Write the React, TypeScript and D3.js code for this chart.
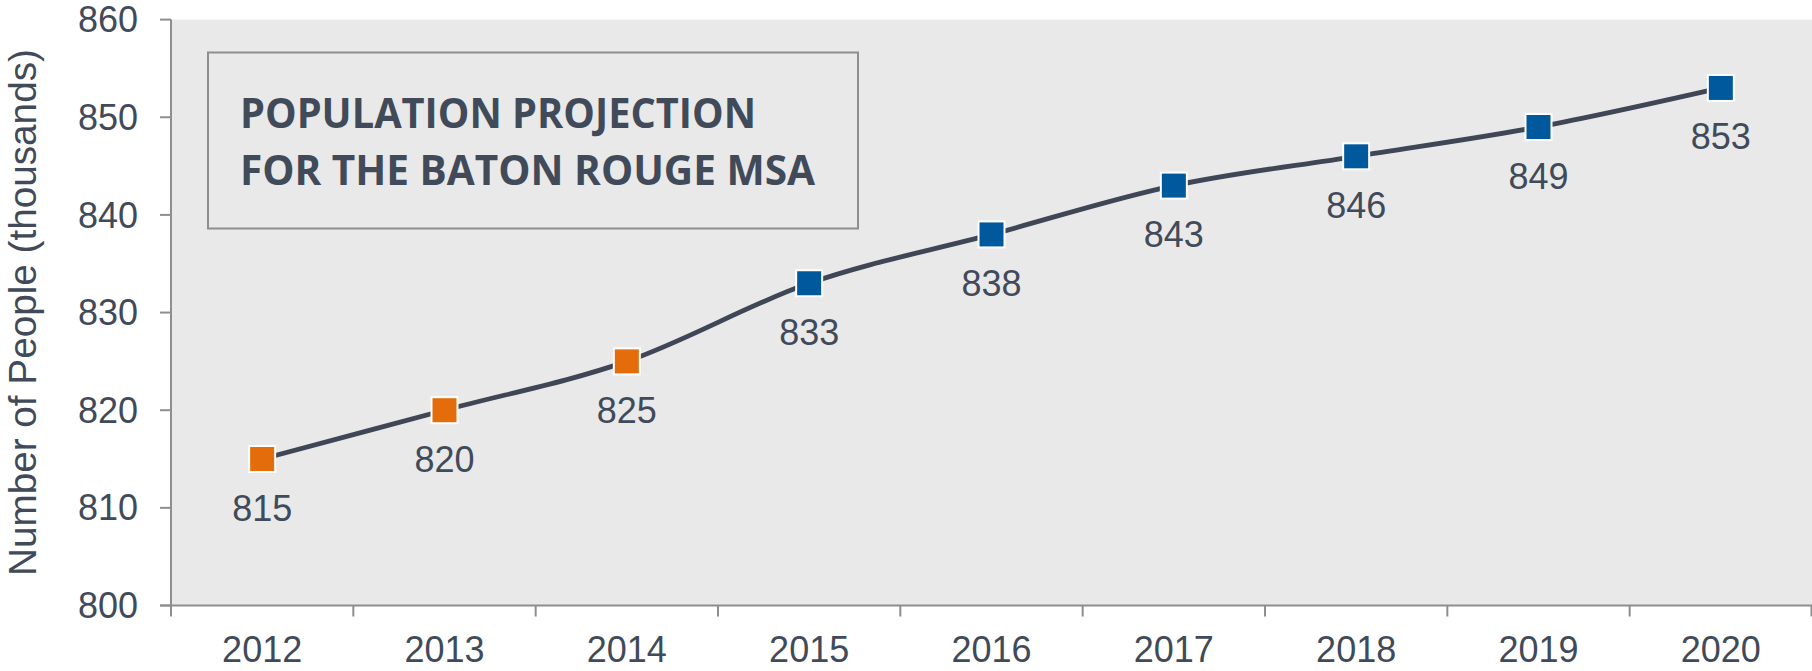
import React from "react";
import * as d3 from "d3";

const WIDTH = 1812;
const HEIGHT = 671;

const years = ["2012", "2013", "2014", "2015", "2016", "2017", "2018", "2019", "2020"];
const population = [815, 820, 825, 833, 838, 843, 846, 849, 853];
// the first three years are actual estimates, the rest are projections
const isProjection = [false, false, false, true, true, true, true, true, true];
const yTicks = [800, 810, 820, 830, 840, 850, 860];
const titleLines = ["POPULATION PROJECTION", "FOR THE BATON ROUGE MSA"];

const TEXT = "#414a59";
const AXIS = "#8e8e8e";
const ORANGE = "#e46c0a";
const BLUE = "#00599c";

const margin = { top: 19.6, right: 0, bottom: 65.5, left: 171 };

export default function App() {
  const x = d3
    .scaleBand<string>()
    .domain(years)
    .range([margin.left, WIDTH - margin.right]);

  const y = d3
    .scaleLinear()
    .domain([800, 860])
    .range([HEIGHT - margin.bottom, margin.top]);

  const cx = (i: number) => (x(years[i]) ?? 0) + x.bandwidth() / 2;

  const line = d3
    .line<number>()
    .x((_, i) => cx(i))
    .y((d) => y(d))
    .curve(d3.curveCatmullRom.alpha(0));

  const x0 = margin.left;
  const y0 = y(800);
  const tickEdges = years.map((yr) => x(yr) ?? 0).concat([WIDTH - margin.right - 0.5]);

  return (
    <div style={{ position: "fixed", left: 0, top: 0 }}>
      <svg width={WIDTH} height={HEIGHT} style={{ display: "block", background: "#fff" }}>
        <rect x={x0} y={y(860)} width={WIDTH - x0} height={y0 - y(860)} fill="#e9e9e9" />

        {/* title box */}
        <rect x={208} y={52.5} width={650} height={176} fill="none" stroke={AXIS} strokeWidth={2} />
        <g fill={TEXT} fontFamily="'Open Sans', sans-serif" fontWeight={700} fontSize={42}>
          <text x={240} y={128} textLength={516} lengthAdjust="spacingAndGlyphs">
            {titleLines[0]}
          </text>
          <text x={240} y={185} textLength={575} lengthAdjust="spacingAndGlyphs">
            {titleLines[1]}
          </text>
        </g>

        {/* y axis */}
        <g fontFamily="'Liberation Sans', Arial, sans-serif" fontSize={36} fill={TEXT}>
          <line x1={x0} x2={x0} y1={y(860)} y2={y0} stroke={AXIS} strokeWidth={2} />
          {yTicks.map((t) => (
            <g key={t}>
              <line x1={x0 - 11} x2={x0} y1={y(t)} y2={y(t)} stroke={AXIS} strokeWidth={2} />
              <text x={x0 - 33} y={y(t)} dy="0.35em" textAnchor="end">
                {t}
              </text>
            </g>
          ))}
          <text
            transform={`translate(36, ${(y(860) + y0) / 2}) rotate(-90)`}
            textAnchor="middle"
            fontSize={38.7}
          >
            Number of People (thousands)
          </text>
        </g>

        {/* x axis */}
        <g fontFamily="'Liberation Sans', Arial, sans-serif" fontSize={36} fill={TEXT}>
          <line x1={x0 - 11} x2={WIDTH} y1={y0} y2={y0} stroke={AXIS} strokeWidth={2} />
          {tickEdges.map((e, i) => (
            <line key={i} x1={e} x2={e} y1={y0} y2={y0 + 11} stroke={AXIS} strokeWidth={2} />
          ))}
          {years.map((yr, i) => (
            <text key={yr} x={cx(i)} y={y0 + 56.5} textAnchor="middle">
              {yr}
            </text>
          ))}
        </g>

        {/* series */}
        <path d={line(population) ?? ""} fill="none" stroke="#3f4756" strokeWidth={4.8} />
        {population.map((v, i) => (
          <rect
            key={i}
            x={cx(i) - 13}
            y={y(v) - 13}
            width={26}
            height={26}
            fill={isProjection[i] ? BLUE : ORANGE}
            stroke="#fff"
            strokeWidth={2}
          />
        ))}
        <g fontFamily="'Liberation Sans', Arial, sans-serif" fontSize={36} fill={TEXT} textAnchor="middle">
          {population.map((v, i) => (
            <text key={i} x={cx(i)} y={y(v) + 61.5}>
              {v}
            </text>
          ))}
        </g>
      </svg>
    </div>
  );
}
